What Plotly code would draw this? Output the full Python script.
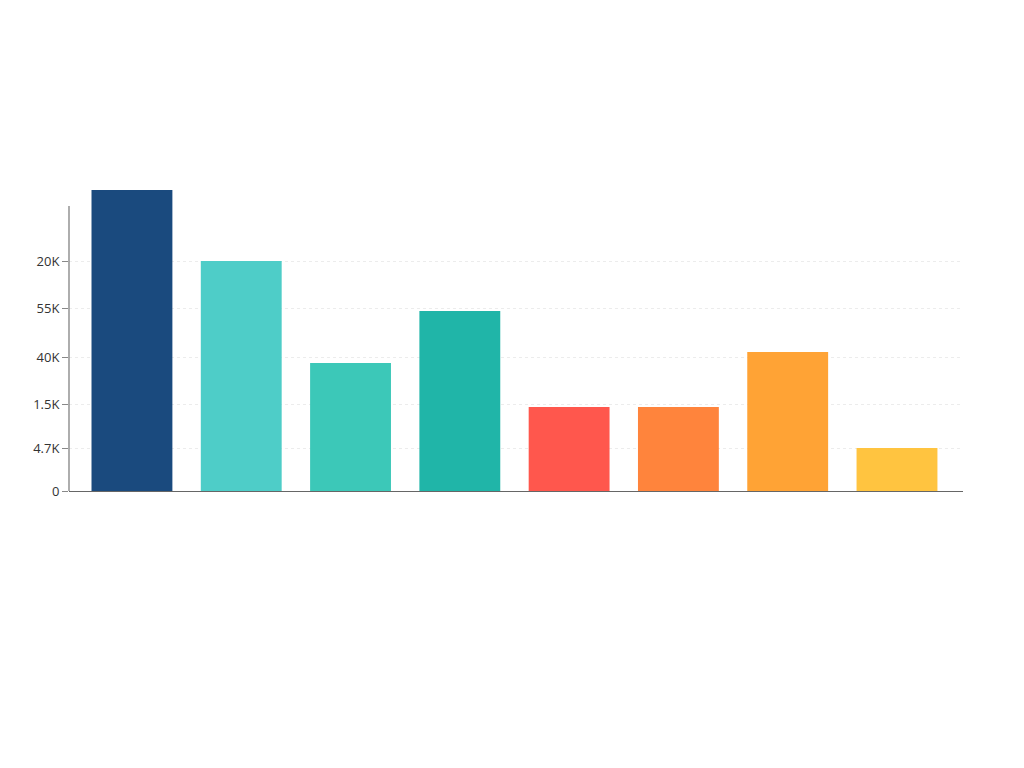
import plotly.graph_objects as go

# bar data (no category labels shown in the chart)
categories = ["A", "B", "C", "D", "E", "F", "G", "H"]
values = [301, 230, 128, 180, 84, 84, 139, 43]
colors = ["#1a4a7e", "#4ecdc8", "#3cc8b8", "#20b5a8",
          "#ff574d", "#ff843c", "#ffa335", "#ffc440"]

# y ticks as printed on the picture
tick_vals = [0, 43, 87, 134, 183, 230]
tick_text = ["0", "4.7K", "1.5K", "40K", "55K", "20K"]

axis_top = 285  # the left axis line stops below the tallest bar

fig = go.Figure()
fig.add_trace(go.Bar(
    x=categories,
    y=values,
    marker=dict(color=colors, line=dict(width=0)),
    showlegend=False,
))

fig.update_layout(
    width=1024,
    height=768,
    margin=dict(l=61, r=69, t=182, b=285),
    paper_bgcolor="white",
    plot_bgcolor="white",
    bargap=0.26,
    font=dict(family="Open Sans", size=13, color="#333333"),
)

fig.update_xaxes(
    range=[-0.576, 7.604],
    showticklabels=False,
    showgrid=False,
    showline=True,
    linecolor="#666666",
    linewidth=1.2,
    ticks="",
    zeroline=False,
)

fig.update_yaxes(
    range=[0, max(values)],
    tickvals=tick_vals,
    ticktext=tick_text,
    ticks="outside",
    ticklen=6,
    tickcolor="#888888",
    showgrid=True,
    gridcolor="#ececec",
    griddash="dot",
    gridwidth=1,
    showline=False,
    zeroline=False,
    tickfont=dict(size=13, color="#333333"),
)

# left axis line as a shape so it can end below the top bar
fig.add_shape(type="line", xref="paper", yref="y",
              x0=0, x1=0, y0=0, y1=axis_top,
              line=dict(color="#777777", width=1.2), layer="above")

fig.write_html("out.html")
